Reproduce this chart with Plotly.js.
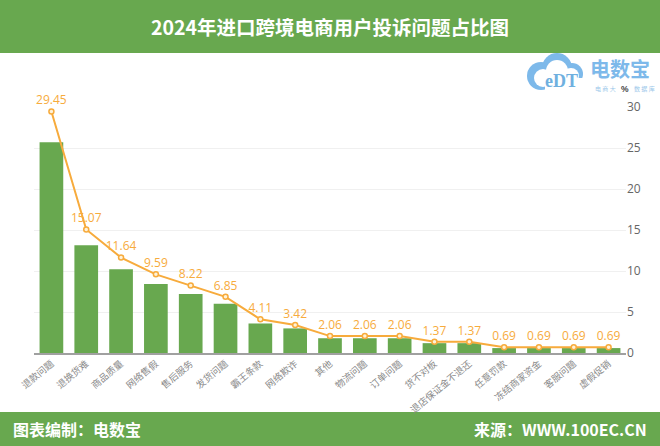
<!DOCTYPE html>
<html><head><meta charset="utf-8">
<script src="https://cdn.plot.ly/plotly-3.0.1.min.js"></script>
<style>html,body{margin:0;padding:0;background:#fff}#c{width:660px;height:446px}</style></head>
<body><div id="c"></div>
<script>
const categories=["退款问题","退换货难","商品质量","网络售假","售后服务","发货问题","霸王条款","网络欺诈","其他","物流问题","订单问题","货不对板","退店保证金不退还","任意罚款","冻结商家资金","客服问题","虚假促销"];
const barValues=[25.7,13.15,10.2,8.4,7.2,6.0,3.6,3.0,1.8,1.8,1.8,1.2,1.2,0.6,0.6,0.6,0.6];
const lineValues=[29.45,15.07,11.64,9.59,8.22,6.85,4.11,3.42,2.06,2.06,2.06,1.37,1.37,0.69,0.69,0.69,0.69];
const yTicks=[0,5,10,15,20,25,30];
const W=660,H=446,L=34,R=34,T=107,B=93;
const px=x=>(x-L)/(W-L-R), py=y=>1-(y-T)/(H-T-B);
const CJK='"Noto Sans CJK SC","Noto Sans",sans-serif';
const GREEN='#68a84f',ORANGE='#f7ab3c',BLUE='#7db9ea';
const box=(x0,y0,x1,y1,c)=>({type:'rect',xref:'paper',yref:'paper',x0:px(x0),x1:px(x1),y0:py(y1),y1:py(y0),fillcolor:c,line:{width:0},layer:'below'});
const circ=(x,y,r,c)=>({type:'circle',xref:'paper',yref:'paper',x0:px(x-r),x1:px(x+r),y0:py(y+r),y1:py(y-r),fillcolor:c,line:{width:0},layer:'below'});
const note=(x,y,text,size,color,anchor,bold,family)=>({xref:'paper',yref:'paper',x:px(x),y:py(y),text:bold?'<b>'+text+'</b>':text,showarrow:false,xanchor:anchor,yanchor:'middle',borderpad:0,font:{size:size,color:color,family:family||CJK}});
Plotly.newPlot('c',[
 {type:'bar',x:categories,y:barValues,marker:{color:GREEN},hoverinfo:'skip'},
 {type:'scatter',mode:'lines+markers+text',x:categories,y:lineValues,text:lineValues.map(v=>v.toFixed(2)),
  textposition:'top center',textfont:{size:12,color:ORANGE,family:'"Open Sans","Noto Sans",sans-serif'},
  line:{color:ORANGE,width:2},marker:{size:5,color:'#fff2d8',line:{color:ORANGE,width:1.5}},cliponaxis:false}
],{
 width:W,height:H,margin:{l:L,r:R,t:T,b:B},paper_bgcolor:'#fff',plot_bgcolor:'rgba(0,0,0,0)',showlegend:false,bargap:0.32,
 xaxis:{type:'category',range:[-0.5,16.5],tickangle:-40,tickfont:{size:9.5,color:'#8a8a8a',family:CJK},showgrid:false,linecolor:'#a0a0a0',linewidth:1.5,ticks:'',showline:true,automargin:false},
 yaxis:{side:'right',range:[0,30],tickvals:yTicks,tickfont:{size:12,color:'#666',family:'"Open Sans","Noto Sans",sans-serif'},gridcolor:'#f0f0f0',gridwidth:1,zeroline:false,showline:false,ticks:'',automargin:false},
 shapes:[box(0,0,660,53,GREEN),box(0,412,660,446,GREEN),
  circ(541,76,14,BLUE),circ(557,68,15,BLUE),circ(572,74,11,BLUE),
  circ(543,78,9,'#fff'),circ(557,71,11,'#fff'),circ(571,76,8,'#fff'),box(545,78,584,93,'#fff')],
 annotations:[
  note(330,26.5,'2024年进口跨境电商用户投诉问题占比图',19.5,'#fff','center',true),
  note(12,429,'图表编制：电数宝',16,'#fff','left',true),
  note(648,429,'来源：WWW.100EC.CN',16,'#fff','right',true),
  note(561,81,'eDT',18,'#6fb0df','center',true,'"Liberation Serif",serif'),
  note(620,68,'电数宝',20,'#7db9ea','center',true),
  note(617,88,'电 商 大',6,'#9cc8ea','right',false),
  note(625,88.5,'%',8.5,'#444','center',true,'"Liberation Sans",sans-serif'),
  note(633,88,'数 据 库',6,'#9cc8ea','left',false)
 ]
},{staticPlot:true,displayModeBar:false});
</script></body></html>
